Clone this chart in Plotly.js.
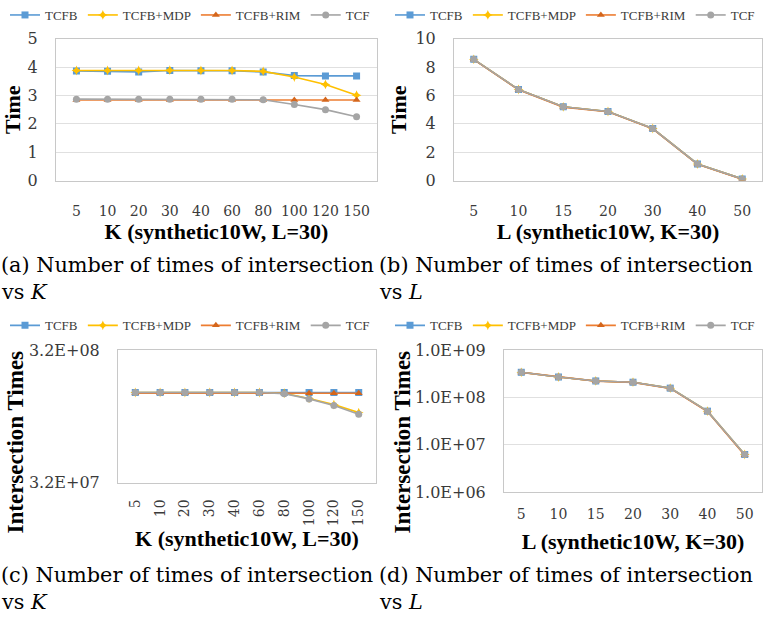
<!DOCTYPE html>
<html>
<head>
<meta charset="utf-8">
<script src="https://cdn.plot.ly/plotly-3.0.1.min.js"></script>
<style>html,body{margin:0;padding:0;background:#fff;}</style>
</head>
<body>
<div id="chart" style="width:763px;height:622px;"></div>
<script>
// ---------- data ----------
const seriesNames = ['TCFB', 'TCFB+MDP', 'TCFB+RIM', 'TCF'];
const kCats = ['5', '10', '20', '30', '40', '60', '80', '100', '120', '150'];
const lCats = ['5', '10', '15', '20', '30', '40', '50'];

// (a) time vs K
const aTCFB = [3.86, 3.85, 3.83, 3.88, 3.87, 3.87, 3.83, 3.70, 3.69, 3.69];
const aMDP  = [3.88, 3.88, 3.88, 3.89, 3.88, 3.88, 3.85, 3.65, 3.39, 3.01];
const aRIM  = [2.84, 2.84, 2.84, 2.84, 2.84, 2.84, 2.84, 2.84, 2.84, 2.84];
const aTCF  = [2.87, 2.87, 2.87, 2.87, 2.87, 2.87, 2.85, 2.68, 2.50, 2.25];

// (b) time vs L
const bTCFB = [8.55, 6.42, 5.20, 4.87, 3.67, 1.17, 0.12];
const bMDP  = [8.55, 6.42, 5.20, 4.87, 3.67, 1.17, 0.12];
const bRIM  = [8.53, 6.40, 5.18, 4.85, 3.65, 1.15, 0.10];
const bTCF  = [8.55, 6.42, 5.20, 4.87, 3.67, 1.17, 0.12];

// (c) intersection times vs K
const cTCFB = [1.53e8, 1.53e8, 1.53e8, 1.53e8, 1.53e8, 1.53e8, 1.53e8, 1.53e8, 1.53e8, 1.53e8];
const cMDP  = [1.53e8, 1.53e8, 1.53e8, 1.53e8, 1.53e8, 1.53e8, 1.51e8, 1.38e8, 1.24e8, 1.08e8];
const cRIM  = [1.51e8, 1.51e8, 1.51e8, 1.51e8, 1.51e8, 1.51e8, 1.51e8, 1.51e8, 1.51e8, 1.51e8];
const cTCF  = [1.53e8, 1.53e8, 1.53e8, 1.53e8, 1.53e8, 1.53e8, 1.50e8, 1.37e8, 1.22e8, 1.05e8];

// (d) intersection times vs L
const dTCFB = [3.37e8, 2.68e8, 2.21e8, 2.08e8, 1.56e8, 5.1e7, 6.2e6];
const dMDP  = [3.37e8, 2.68e8, 2.21e8, 2.08e8, 1.56e8, 5.1e7, 6.2e6];
const dRIM  = [3.35e8, 2.66e8, 2.19e8, 2.06e8, 1.54e8, 5.0e7, 6.0e6];
const dTCF  = [3.37e8, 2.68e8, 2.21e8, 2.08e8, 1.56e8, 5.1e7, 6.2e6];

const cLogTicks = [3.2e7, 3.2e8];
const cLogTickText = ['3.2E+07', '3.2E+08'];
const dLogTicks = [1e6, 1e7, 1e8, 1e9];
const dLogTickText = ['1.0E+06', '1.0E+07', '1.0E+08', '1.0E+09'];

const xTitleK = 'K (synthetic10W, L=30)';
const xTitleL = 'L (synthetic10W, K=30)';
const yTitleTime = 'Time';
const yTitleInter = 'Intersection Times';
const captions = [
  '(a) Number of times of intersection', '(b) Number of times of intersection',
  '(c) Number of times of intersection', '(d) Number of times of intersection'
];
const captionVs = ['vs <i>K</i>', 'vs <i>L</i>', 'vs <i>K</i>', 'vs <i>L</i>'];

// ---------- styles ----------
const W = 763, H = 622;
const SERIF = "'Liberation Serif', 'DejaVu Serif', serif";
const SERIF2 = "'DejaVu Serif', 'Liberation Serif', serif";
const colors = ['#5B9BD5', '#FFC000', '#ED7D31', '#A5A5A5'];
const markerColors = ['#5B9BD5', '#FFC000', '#D4661C', '#A5A5A5'];
const symbols = ['square', 'star-diamond', 'triangle-up', 'circle'];
const px = v => v / W;
const py = v => 1 - v / H;

function makeTraces(cats, arrs, xa, ya, leg) {
  return arrs.map((ys, i) => ({
    type: 'scatter', mode: 'lines+markers',
    name: seriesNames[i], x: cats, y: ys,
    xaxis: xa, yaxis: ya, legend: leg,
    line: {color: colors[i], width: 1.6},
    marker: {symbol: symbols[i], size: 7, color: markerColors[i]}
  }));
}

const data = [].concat(
  makeTraces(kCats, [aTCFB, aMDP, aRIM, aTCF], 'x', 'y', 'legend'),
  makeTraces(lCats, [bTCFB, bMDP, bRIM, bTCF], 'x2', 'y2', 'legend2'),
  makeTraces(kCats, [cTCFB, cMDP, cRIM, cTCF], 'x3', 'y3', 'legend3'),
  makeTraces(lCats, [dTCFB, dMDP, dRIM, dTCF], 'x4', 'y4', 'legend4')
);

const tickFont = {family: SERIF2, size: 16, color: '#3a3a3a'};
const xTickFont = {family: SERIF2, size: 14, color: '#3a3a3a'};
const titleFont = {family: SERIF, size: 22, color: '#000'};

function xAxis(dom, anchor, title, angle, standoff, tstand) {
  return {
    domain: dom, anchor: anchor, type: 'category', tickangle: angle,
    tickfont: xTickFont, showgrid: false, zeroline: false,
    showline: true, mirror: true, linecolor: '#c8c8c8', linewidth: 1,
    ticks: '', ticklabelstandoff: standoff,
    title: {text: '<b>' + title + '</b>', font: titleFont, standoff: tstand},
    fixedrange: true
  };
}
function yAxis(dom, anchor, extra, title) {
  const ax = Object.assign({
    domain: dom, anchor: anchor, tickfont: tickFont,
    showgrid: true, gridcolor: '#e0e0e0', zeroline: false,
    showline: true, mirror: true, linecolor: '#c8c8c8', linewidth: 1,
    ticks: '', ticklabelstandoff: 14, fixedrange: true
  }, extra);
  if (title) ax.title = {text: '<b>' + title + '</b>', font: titleFont, standoff: 2};
  return ax;
}
function legend(xc, yc) {
  return {
    orientation: 'h', x: px(xc), xanchor: 'center', y: py(yc), yanchor: 'middle',
    font: {family: SERIF, size: 13, color: '#3a3a3a'},
    bgcolor: 'rgba(0,0,0,0)', itemwidth: 30, tracegroupgap: 0
  };
}

const rowTop1 = [py(177), py(34)];
const rowTop2c = [py(481.7), py(347.7)];
const rowTop2d = [py(491), py(347.7)];

const layout = {
  width: W, height: H,
  margin: {l: 0, r: 0, t: 0, b: 0},
  paper_bgcolor: '#ffffff', plot_bgcolor: '#ffffff',
  showlegend: true,
  xaxis: xAxis([px(56), px(377)], 'y', xTitleK, 0, 18, 4),
  yaxis: yAxis(rowTop1, 'x', {range: [0, 5], dtick: 1}, yTitleTime),
  xaxis2: xAxis([px(454), px(762)], 'y2', xTitleL, 0, 18, 4),
  yaxis2: yAxis(rowTop1, 'x2', {range: [0, 10], dtick: 2}, yTitleTime),
  xaxis3: xAxis([px(118), px(376)], 'y3', xTitleK, -90, 10, 4),
  yaxis3: yAxis(rowTop2c, 'x3', {type: 'log',
    range: [Math.log10(cLogTicks[0]), Math.log10(cLogTicks[1])],
    tickvals: cLogTicks, ticktext: cLogTickText, showgrid: false}),
  xaxis4: xAxis([px(504), px(762)], 'y4', xTitleL, 0, 9, 12),
  yaxis4: yAxis(rowTop2d, 'x4', {type: 'log', range: [6, 9],
    tickvals: dLogTicks, ticktext: dLogTickText}),
  legend: legend(190, 10),
  legend2: legend(575, 10),
  legend3: legend(190, 323),
  legend4: legend(575, 323),
  annotations: [
    {text: '<b>' + yTitleInter + '</b>', textangle: -90, x: px(15), y: py(441),
     xref: 'paper', yref: 'paper', showarrow: false, xanchor: 'center', yanchor: 'middle',
     font: {family: SERIF, size: 23, color: '#000'}},
    {text: '<b>' + yTitleInter + '</b>', textangle: -90, x: px(402), y: py(441),
     xref: 'paper', yref: 'paper', showarrow: false, xanchor: 'center', yanchor: 'middle',
     font: {family: SERIF, size: 23, color: '#000'}}
  ]
};

const capPos = [[0, 262, 289], [378, 262, 289], [0, 575, 602], [378, 575, 602]];
capPos.forEach((p, i) => {
  layout.annotations.push({
    text: captions[i], x: px(p[0]), y: py(p[1]), xref: 'paper', yref: 'paper',
    showarrow: false, xanchor: 'left', yanchor: 'middle', borderpad: 0,
    font: {family: SERIF2, size: 20.8, color: '#000'}
  });
  layout.annotations.push({
    text: captionVs[i], x: px(p[0]), y: py(p[2]), xref: 'paper', yref: 'paper',
    showarrow: false, xanchor: 'left', yanchor: 'middle', borderpad: 0,
    font: {family: SERIF2, size: 20.8, color: '#000'}
  });
});

Plotly.newPlot('chart', data, layout, {staticPlot: true, displayModeBar: false});
</script>
</body>
</html>
